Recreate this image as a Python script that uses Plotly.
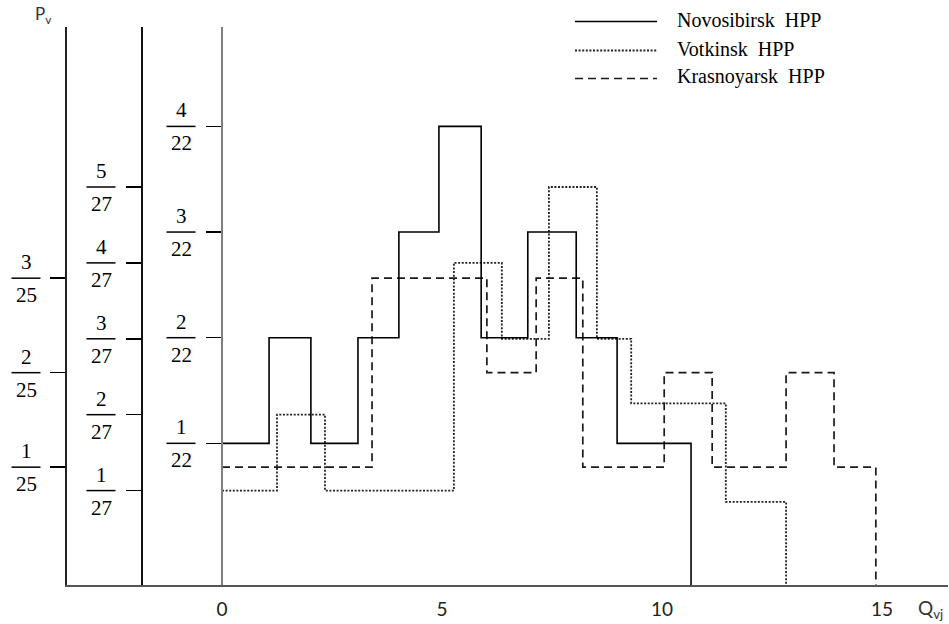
import plotly.graph_objects as go

# ---------------- data ----------------
series_names = ["Novosibirsk HPP", "Votkinsk HPP", "Krasnoyarsk HPP"]

# Novosibirsk HPP (probabilities in units of 1/22)
novo_denom = 22
novo_edges = [0, 1.07, 2.02, 3.09, 4.02, 4.93, 5.89, 6.95, 8.05, 8.98, 10.66]
novo_counts = [1, 2, 1, 2, 3, 4, 2, 3, 2, 1]

# Votkinsk HPP (units of 1/27)
votk_denom = 27
votk_edges = [0, 1.25, 2.34, 5.27, 6.36, 7.43, 8.52, 9.30, 11.45, 12.82]
votk_counts = [1, 2, 1, 4, 3, 5, 3, 2.15, 0.85]

# Krasnoyarsk HPP (units of 1/25)
kras_denom = 25
kras_edges = [0, 3.41, 6.02, 7.14, 8.20, 10.05, 11.14, 12.82, 13.91, 14.86]
kras_counts = [1, 3, 2, 3, 1, 2, 1, 2, 1]

x_tick_vals = [0, 5, 10, 15]
x_tick_labels = ["0", "5", "10", "15"]

y22_numerators = [1, 2, 3, 4]
y27_numerators = [1, 2, 3, 4, 5]
y25_numerators = [1, 2, 3]

# ---------------- layout geometry ----------------
W, H = 949, 624
L, R, T, B = 67, 1, 27, 39
pw, ph = W - L - R, H - T - B

xr = [-(222 - L) / 44.0, (W - R - 222) / 44.0]
r22 = [-0.341 / 22, 4.941 / 22]
r27 = [-0.244 / 27, 7.108 / 27]
r25 = [-0.247 / 25, 5.658 / 25]

pos25 = 0.0
pos27 = (142 - L) / pw
pos22 = (0 - xr[0]) / (xr[1] - xr[0])


def step(edges, counts, denom, rng):
    xs = list(edges)
    ys = [c / denom for c in counts] + [counts[-1] / denom]
    xs.append(edges[-1])
    ys.append(rng[0])
    return xs, ys


SERIF = "Liberation Serif, Times New Roman, serif"
SANS = "Lato, Carlito, Calibri, sans-serif"

styles = {
    "Novosibirsk HPP": dict(color="black", width=1.6, dash="solid"),
    "Votkinsk HPP": dict(color="#222222", width=1.8, dash="2px,1.6px"),
    "Krasnoyarsk HPP": dict(color="#1a1a1a", width=1.7, dash="8px,5px"),
}

fig = go.Figure()
for name, edges, counts, denom, rng, yax in [
    ("Novosibirsk HPP", novo_edges, novo_counts, novo_denom, r22, "y3"),
    ("Votkinsk HPP", votk_edges, votk_counts, votk_denom, r27, "y2"),
    ("Krasnoyarsk HPP", kras_edges, kras_counts, kras_denom, r25, "y"),
]:
    xs, ys = step(edges, counts, denom, rng)
    st = styles[name]
    fig.add_trace(go.Scatter(
        x=xs, y=ys, mode="lines", name=name, yaxis=yax, showlegend=False,
        line=dict(shape="hv", color=st["color"], width=st["width"], dash=st["dash"]),
        hoverinfo="skip",
    ))

common_y = dict(showgrid=False, zeroline=False, showline=True, linewidth=2,
                ticks="outside", ticklen=15, tickwidth=1.5, tickcolor="black",
                showticklabels=False, fixedrange=True)

fig.update_layout(
    width=W, height=H, autosize=False,
    margin=dict(l=L, r=R, t=T, b=B, pad=0),
    paper_bgcolor="white", plot_bgcolor="white",
    xaxis=dict(range=xr, showgrid=False, zeroline=False, showline=True,
               linecolor="#555555", linewidth=2, ticks="",
               tickvals=x_tick_vals, ticktext=x_tick_labels,
               tickfont=dict(family=SANS, size=19, color="#222222"),
               ticklabelstandoff=6, fixedrange=True),
    yaxis=dict(range=r25, linecolor="#222222",
               tickvals=[n / 25 for n in y25_numerators], **common_y),
    yaxis2=dict(range=r27, overlaying="y", anchor="free", position=pos27, side="left",
                linecolor="#111111",
                tickvals=[n / 27 for n in y27_numerators], **common_y),
    yaxis3=dict(range=r22, overlaying="y", anchor="free", position=pos22, side="left",
                linecolor="#808080",
                tickvals=[n / 22 for n in y22_numerators], **common_y),
)

# fraction tick labels
annotations = []
shapes = []
for pos, nums, den, rng in [
    (pos25, y25_numerators, 25, r25),
    (pos27, y27_numerators, 27, r27),
    (pos22, y22_numerators, 22, r22),
]:
    for n in nums:
        py = (n / den - rng[0]) / (rng[1] - rng[0])
        annotations.append(dict(x=pos, y=py, xref="paper", yref="paper", xshift=-41, yshift=16,
                                text=str(n), showarrow=False, xanchor="center", yanchor="middle",
                                font=dict(family=SERIF, size=21, color="black")))
        annotations.append(dict(x=pos, y=py, xref="paper", yref="paper", xshift=-41, yshift=-17,
                                text=str(den), showarrow=False, xanchor="center", yanchor="middle",
                                font=dict(family=SERIF, size=21, color="black")))
        shapes.append(dict(type="line", xref="paper", yref="paper", xsizemode="pixel",
                           xanchor=pos, x0=-55.5, x1=-26.5, y0=py, y1=py,
                           line=dict(color="black", width=1.5)))


def pxx(px):
    return (px - L) / pw


def pxy(py):
    return (H - B - py) / ph


# custom legend
for i, name in enumerate(series_names):
    ly = [21.5, 50.5, 78.5][i]
    ty = [20, 49, 76][i]
    st = styles[name]
    shapes.append(dict(type="line", xref="paper", yref="paper",
                       x0=pxx(575), x1=pxx(657), y0=pxy(ly), y1=pxy(ly),
                       line=dict(color=st["color"], width=st["width"], dash=st["dash"])))
    annotations.append(dict(x=pxx(675), y=pxy(ty), xref="paper", yref="paper",
                            text=name.replace(" HPP", "&nbsp;&nbsp;HPP"), showarrow=False,
                            xanchor="left", yanchor="middle",
                            font=dict(family=SERIF, size=20, color="black")))

# axis titles
annotations.append(dict(x=pxx(33), y=pxy(15), xref="paper", yref="paper",
                        text="P<sub>v</sub>", showarrow=False, xanchor="left", yanchor="middle",
                        font=dict(family=SANS, size=17, color="#333333")))
annotations.append(dict(x=pxx(916), y=pxy(609), xref="paper", yref="paper",
                        text="Q<sub>vj</sub>", showarrow=False, xanchor="left", yanchor="middle",
                        font=dict(family=SANS, size=19, color="#333333")))

fig.update_layout(annotations=annotations, shapes=shapes)

fig.write_html("out.html",
               config={"displayModeBar": False, "staticPlot": True},
               post_script="document.body.style.margin='0';document.body.style.padding='0';")
